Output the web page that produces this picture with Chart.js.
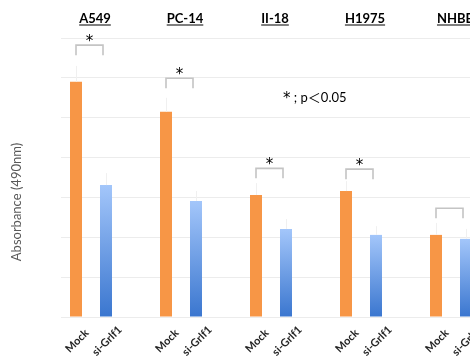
<!DOCTYPE html>
<html><head><meta charset="utf-8">
<script src="https://cdn.jsdelivr.net/npm/chart.js@4/dist/chart.umd.min.js"></script>
<style>
html,body{margin:0;padding:0;background:#fff;overflow:hidden;width:470px;height:358px}
#wrap{position:relative;width:530px;height:358px}
</style></head><body>
<div id="wrap"><canvas id="c" width="530" height="358"></canvas></div>
<script>
const groups = ["A549", "PC-14", "II-18", "H1975", "NHBE"];
const conditions = ["Mock", "si-Grlf1"];
const mockValues = [0.590, 0.515, 0.306, 0.316, 0.206];
const siValues = [0.331, 0.291, 0.221, 0.206, 0.196];
const mockErrors = [0.04, 0.035, 0.03, 0.025, 0.03];
const siErrors = [0.03, 0.025, 0.025, 0.022, 0.025];
const bracketLevels = [0.682, 0.599, 0.373, 0.371, 0.273];
const significant = [true, true, true, true, false];
const yMin = 0, yMax = 0.7, yStep = 0.1;
const yTitle = "Absorbance (490nm)";
const noteStar = "*";
const noteText = " ; p\uFF1C0.05";

const labels = [], values = [], errors = [];
groups.forEach((g, i) => {
  labels.push(conditions[0], conditions[1], "");
  values.push(mockValues[i], siValues[i], null);
  errors.push(mockErrors[i], siErrors[i], null);
});

const overlay = {
  id: 'overlay',
  afterDatasetsDraw(chart) {
    const ctx = chart.ctx, ys = chart.scales.y, xsc = chart.scales.x, ca = chart.chartArea;
    const bars = chart.getDatasetMeta(0).data;
    ctx.save();
    ctx.strokeStyle = '#f0f0f0'; ctx.lineWidth = 1;
    values.forEach((v, i) => {
      if (v == null) return;
      const x = Math.round(bars[i].x) + 0.5;
      ctx.beginPath();
      ctx.moveTo(x, ys.getPixelForValue(v));
      ctx.lineTo(x, ys.getPixelForValue(v + errors[i]));
      ctx.stroke();
    });
    // rotated x labels via explicit transform matrix
    const a = -Math.PI / 4, cs = Math.cos(a), sn = Math.sin(a);
    labels.forEach((lab, i) => {
      if (!lab) return;
      const x = xsc.getPixelForValue(i) + 1, y = ca.bottom + 24;
      ctx.save();
      ctx.setTransform(cs, sn, -sn, cs, x, y);
      ctx.fillStyle = '#262626';
      ctx.font = 'bold 11px Lato';
      ctx.textAlign = 'center'; ctx.textBaseline = 'middle';
      ctx.fillText(lab, 0, 0);
      ctx.restore();
    });
    groups.forEach((g, i) => {
      const xm = bars[i * 3].x, xs = bars[i * 3 + 1].x;
      const yb = ys.getPixelForValue(bracketLevels[i]);
      const x1 = xm, x2 = xs - 3;
      ctx.strokeStyle = '#c4c4c4'; ctx.lineWidth = 1.6;
      ctx.beginPath();
      ctx.moveTo(x1, yb + 10); ctx.lineTo(x1, yb); ctx.lineTo(x2, yb); ctx.lineTo(x2, yb + 10);
      ctx.stroke();
      if (significant[i]) {
        ctx.fillStyle = '#000';
        ctx.font = '15px "DejaVu Sans"';
        ctx.textAlign = 'center'; ctx.textBaseline = 'alphabetic';
        ctx.fillText('*', (x1 + x2) / 2, yb + 1);
      }
      const cx = (xm + xs) / 2 + 4;
      const by = ca.top - 15;
      ctx.fillStyle = '#000';
      ctx.font = 'bold 13px Lato';
      ctx.textAlign = 'center'; ctx.textBaseline = 'alphabetic';
      ctx.fillText(g, cx, by);
      const w = ctx.measureText(g).width;
      ctx.fillRect(cx - w / 2, by + 1.5, w, 1);
    });
    ctx.fillStyle = '#000';
    ctx.textAlign = 'left'; ctx.textBaseline = 'alphabetic';
    ctx.font = '15px "DejaVu Sans"';
    const nx = ca.left + 222, ny = ca.top + 64;
    ctx.fillText(noteStar, nx, ny + 1);
    const sw = ctx.measureText(noteStar).width;
    ctx.font = '13px Lato, "Noto Sans CJK JP"';
    ctx.fillText(noteText, nx + sw, ny);
    ctx.save();
    ctx.translate(17, ca.bottom - 115);
    ctx.rotate(-Math.PI / 2);
    ctx.fillStyle = '#595959';
    ctx.font = '13px Lato';
    ctx.textAlign = 'center'; ctx.textBaseline = 'middle';
    ctx.fillText(yTitle, 0, 0);
    ctx.restore();
    ctx.restore();
  }
};

new Chart(document.getElementById('c'), {
  type: 'bar',
  data: {
    labels: labels,
    datasets: [{
      data: values,
      backgroundColor: (c) => {
        if (c.type !== 'data') return '#f79646';
        if (c.dataIndex % 3 === 0) return '#f79646';
        const ch = c.chart;
        if (!ch.chartArea) return '#6c9ae0';
        const y0 = ch.scales.y.getPixelForValue(0);
        const y1 = ch.scales.y.getPixelForValue(c.raw || 0);
        const g = ch.ctx.createLinearGradient(0, y1, 0, y0);
        g.addColorStop(0, '#a3c6fa');
        g.addColorStop(1, '#3a76cf');
        return g;
      },
      borderWidth: 0,
      categoryPercentage: 1,
      barPercentage: 0.4
    }]
  },
  options: {
    responsive: false,
    animation: false,
    layout: { padding: { left: 61, top: 38, right: 19, bottom: 0 } },
    plugins: { legend: { display: false }, tooltip: { enabled: false } },
    scales: {
      x: {
        grid: { display: false },
        border: { display: false },
        ticks: { display: false },
        afterFit: (s) => { s.height = 41; }
      },
      y: {
        min: yMin, max: yMax,
        ticks: { display: false, stepSize: yStep },
        grid: { color: '#ececec', drawTicks: false },
        border: { display: false },
        afterFit: (s) => { s.width = 0; }
      }
    }
  },
  plugins: [overlay]
});
</script>
</body></html>
